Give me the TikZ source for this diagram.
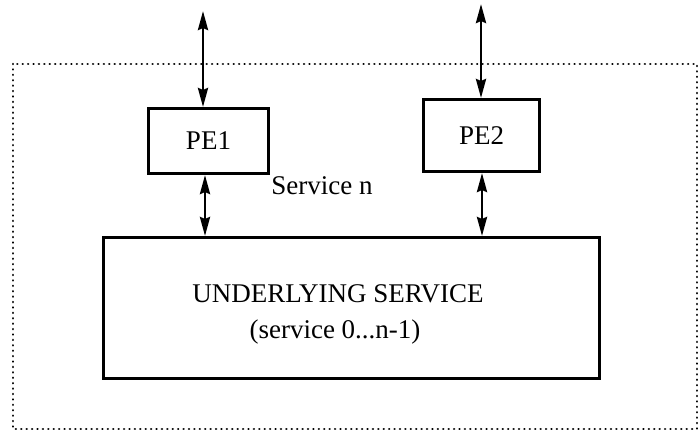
\documentclass[tikz,border=0pt]{standalone}
\usepackage{fontspec}
\setmainfont{Liberation Serif}
\usetikzlibrary{arrows.meta}
\begin{document}
\begin{tikzpicture}[x=1pt,y=-1pt,
  box/.style={draw,line width=3pt,inner sep=0pt},
  lbl/.style={font=\fontsize{27}{32}\selectfont,inner sep=0pt},
  link/.style={line width=2.8pt,{Stealth[length=19pt,width=10pt,inset=2pt]}-{Stealth[length=19pt,width=10pt,inset=2pt]}},
  frame/.style={line width=2.6pt,dash pattern=on 0.01pt off 5.4pt,line cap=round}]
\useasboundingbox (0,0) rectangle (699,432);
% outer service boundary
\draw[frame] (13,64) rectangle (697,429);
% protocol entities and the underlying service
\node[box,minimum width=120pt,minimum height=65pt,anchor=north west] (pe1) at (147,107) {};
\node[lbl] at (pe1.center) {PE1};
\node[box,minimum width=116pt,minimum height=72pt,anchor=north west] (pe2) at (422,98) {};
\node[lbl] at (pe2.center) {PE2};
\node[box,minimum width=496pt,minimum height=141pt,anchor=north west] (us) at (102,236) {};
\node[lbl] (ust) at (338,294) {UNDERLYING SERVICE};
\node[lbl] (usr) at (335,332) {(service 0...n-1)};
\node[lbl] (sn) at (322,186) {Service n};
% service access points
\coordinate (top1) at (203,11);
\coordinate (top2) at (481,4);
\draw[link] (top1) -- (pe1.north -| top1);
\draw[link] (top2) -- (pe2.north -| top2);
\draw[link] (pe1.south -| 205,0) -- (us.north -| 205,0);
\draw[link] (pe2.south -| 482,0) -- (us.north -| 482,0);
\end{tikzpicture}
\end{document}
